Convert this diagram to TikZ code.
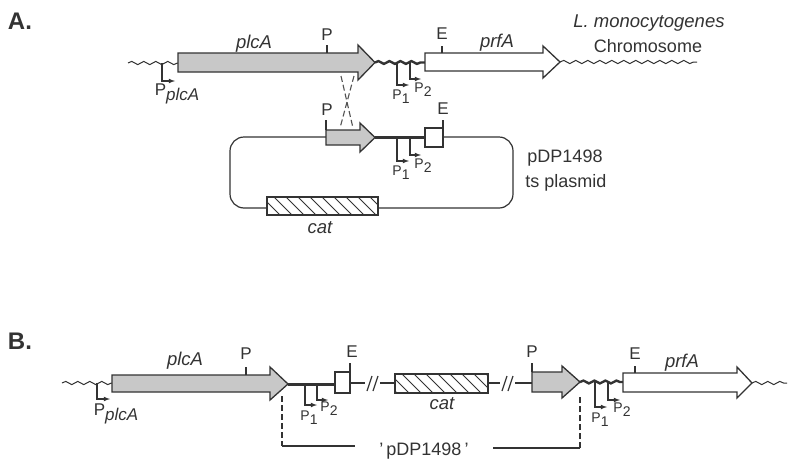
\documentclass[tikz,border=0pt]{standalone}
\usepackage{fontspec}
\setmainfont{Liberation Sans}
\usetikzlibrary{decorations.pathmorphing}
\definecolor{ink}{HTML}{333333}
\definecolor{genefill}{HTML}{C8C8C8}
\newcommand{\lowsub}[1]{\raisebox{-0.5ex}{#1}}

\begin{document}
\begin{tikzpicture}[x=1pt,y=-1pt,
    thin line/.style={draw=ink,line width=1.2pt},
    gene/.style={draw=ink,line width=1.3pt,line join=miter},
    thin wave/.style={draw=ink,line width=1pt,decorate,decoration={snake,segment length=12pt,amplitude=1.6pt}},
    thick wave/.style={draw=ink,line width=2.4pt,decorate,decoration={snake,segment length=11pt,amplitude=1.4pt}},
    prom/.style={draw=ink,line width=1.1pt,-latex},
    hatch/.style={draw=ink,line width=1pt},
    cross/.style={draw=ink!85,line width=1.1pt,dash pattern=on 6pt off 3pt},
    sitetag/.style={text=ink,inner sep=0pt,font=\fontsize{17}{19}\selectfont},
    promtag/.style={text=ink,inner sep=0pt,font=\fontsize{14}{16}\selectfont},
    genetag/.style={text=ink,inner sep=0pt,font=\fontsize{18.5}{21}\selectfont\itshape},
    plaintag/.style={text=ink,inner sep=0pt,font=\fontsize{18}{21}\selectfont},
    paneltag/.style={text=ink,inner sep=0pt,font=\fontsize{24}{28}\selectfont\bfseries}]
    \useasboundingbox[fill=white] (0,0) rectangle (800,474);
    %%%%%%%%%%%%%%%%%%%%%%%%%%%%%%%% Panel A
    \node[paneltag] (panA) at (20,21) {A.};
    %%% Chromosome flanks
    \draw[thin wave] (128,63) -- (178,63);
    \draw[thin wave] (560,62) -- (697,62);
    %%% plcA and prfA on the chromosome
    \draw[gene,fill=genefill] (178,53) -- (358,53) -- (358,45) -- (375,62.5) -- (358,80) -- (358,72) -- (178,72) -- cycle;
    \draw[thick wave] (375,62.5) -- (425,62.5);
    \draw[gene,fill=white] (425,53) -- (543,53) -- (543,46) -- (560,62) -- (543,78) -- (543,71) -- (425,71) -- cycle;
    %%% Sites
    \draw[thin line] (327,53) -- (327,45);
    \draw[thin line] (442,53) -- (442,46);
    \node[sitetag] (PsiteA) at (327,35) {P};
    \node[sitetag] (EsiteA) at (442,34) {E};
    %%% Promoters
    \draw[prom] (162,63) -- (162,81) -- (175,81);
    \draw[prom] (397,62) -- (397,85) -- (409,85);
    \draw[prom] (410,62) -- (410,79) -- (421,79);
    \node[sitetag] (PplcA) at (177,94) {P\lowsub{\itshape plcA}};
    \node[promtag] (PoneA) at (401,97) {P\lowsub{1}};
    \node[promtag] (PtwoA) at (423,90) {P\lowsub{2}};
    %%% Gene labels
    \node[genetag] (plcAA) at (254,44) {plcA};
    \node[genetag] (prfAA) at (497,43) {prfA};
    \node[genetag] (chromA) at (649,23) {L. monocytogenes};
    \node[plaintag] (chromB) at (648,46) {Chromosome};
    %%% Crossover
    \draw[cross] (341,76) -- (353,128);
    \draw[cross] (354,76) -- (340,128);
    %%% Plasmid backbone
    \draw[thin line,rounded corners=14pt] (326,137) -- (230,137) -- (230,208) -- (513,208) -- (513,137) -- (443,137);
    \draw[gene,fill=genefill] (326,130) -- (360,130) -- (360,123) -- (375,137.5) -- (360,152) -- (360,145) -- (326,145) -- cycle;
    \draw[draw=ink,line width=3pt] (375,137.5) -- (425,137.5);
    \draw[gene,fill=white] (425,128) rectangle (443,147);
    \draw[thin line] (326,130) -- (326,120);
    \draw[thin line] (443,128) -- (443,120);
    \node[sitetag] (PsiteP) at (327,110) {P};
    \node[sitetag] (EsiteP) at (443,109) {E};
    \draw[prom] (397,138) -- (397,161) -- (409,161);
    \draw[prom] (410,138) -- (410,155) -- (421,155);
    \node[promtag] (PoneP) at (401,173) {P\lowsub{1}};
    \node[promtag] (PtwoP) at (423,166) {P\lowsub{2}};
    %%% cat on the plasmid
    \fill[white] (267,197) rectangle (378,215);
    \begin{scope}
        \clip (267,197) rectangle (378,215);
        \foreach \x in {250,262,...,382}
            \draw[hatch] (\x,197) -- ++(18,18);
    \end{scope}
    \draw[gene] (267,197) rectangle (378,215);
    \node[genetag] (catP) at (320,228) {cat};
    \node[plaintag] (plasA) at (565,158) {pDP1498};
    \node[plaintag] (plasB) at (566,183) {ts plasmid};
    %%%%%%%%%%%%%%%%%%%%%%%%%%%%%%%% Panel B
    \node[paneltag] (panB) at (20,341) {B.};
    %%% Flanks
    \draw[thin wave] (62,383) -- (112,383);
    \draw[thin wave] (752,383) -- (787,383);
    %%% plcA, junction and E box
    \draw[gene,fill=genefill] (112,375) -- (270,375) -- (270,367) -- (288,384) -- (270,400) -- (270,392) -- (112,392) -- cycle;
    \draw[draw=ink,line width=3pt] (288,384) -- (335,384);
    \draw[gene,fill=white] (335,372) rectangle (350,393);
    %%% Vector with breaks
    \draw[thin line] (350,383) -- (365,383);
    \draw[thin line] (367,391) -- (372,376);
    \draw[thin line] (373,391) -- (378,376);
    \draw[thin line] (380,383) -- (395,383);
    \fill[white] (395,374) rectangle (488,393);
    \begin{scope}
        \clip (395,374) rectangle (488,393);
        \foreach \x in {378,390,...,492}
            \draw[hatch] (\x,374) -- ++(19,19);
    \end{scope}
    \draw[gene] (395,374) rectangle (488,393);
    \draw[thin line] (488,383) -- (500,383);
    \draw[thin line] (502,391) -- (507,376);
    \draw[thin line] (508,391) -- (513,376);
    \draw[thin line] (515,383) -- (532,383);
    %%% plcA fragment and prfA
    \draw[gene,fill=genefill] (532,372) -- (562,372) -- (562,366) -- (580,382) -- (562,398) -- (562,392) -- (532,392) -- cycle;
    \draw[thick wave] (580,382) -- (623,382);
    \draw[gene,fill=white] (623,373) -- (737,373) -- (737,367) -- (752,383) -- (737,398) -- (737,392) -- (623,392) -- cycle;
    %%% Sites
    \draw[thin line] (246,375) -- (246,367);
    \draw[thin line] (350,372) -- (350,363);
    \draw[thin line] (532,372) -- (532,363);
    \draw[thin line] (635,373) -- (635,366);
    \node[sitetag] (PsiteB) at (246,354) {P};
    \node[sitetag] (EsiteB) at (352,352) {E};
    \node[sitetag] (PsiteC) at (532,352) {P};
    \node[sitetag] (EsiteC) at (635,354) {E};
    %%% Promoters
    \draw[prom] (97,383) -- (97,399) -- (110,399);
    \draw[prom] (305,384) -- (305,405) -- (317,405);
    \draw[prom] (317,384) -- (317,400) -- (328,400);
    \draw[prom] (595,382) -- (595,407) -- (607,407);
    \draw[prom] (608,382) -- (608,400) -- (620,400);
    \node[sitetag] (PplcB) at (116,414) {P\lowsub{\itshape plcA}};
    \node[promtag] (PoneB) at (309,418) {P\lowsub{1}};
    \node[promtag] (PtwoB) at (329,409) {P\lowsub{2}};
    \node[promtag] (PoneC) at (600,420) {P\lowsub{1}};
    \node[promtag] (PtwoC) at (622,410) {P\lowsub{2}};
    %%% Gene labels
    \node[genetag] (plcAB) at (185,361) {plcA};
    \node[genetag] (catB) at (442,404) {cat};
    \node[genetag] (prfAB) at (682,363) {prfA};
    %%% Integrated plasmid bracket
    \node[plaintag] (pdpB) at (424,451) {'\,pDP1498\,'};
    \coordinate (brLtop) at (282,396);
    \coordinate (brLbot) at (282,446);
    \coordinate (brLend) at (355,446);
    \coordinate (brRbeg) at (493,448);
    \coordinate (brRbot) at (580,448);
    \coordinate (brRtop) at (580,396);
    \draw[cross,draw=ink] (brLtop) -- (brLbot);
    \draw[thin line] (brLbot) -- (brLend);
    \draw[thin line] (brRbeg) -- (brRbot);
    \draw[cross,draw=ink] (brRbot) -- (brRtop);
\end{tikzpicture}
\end{document}
